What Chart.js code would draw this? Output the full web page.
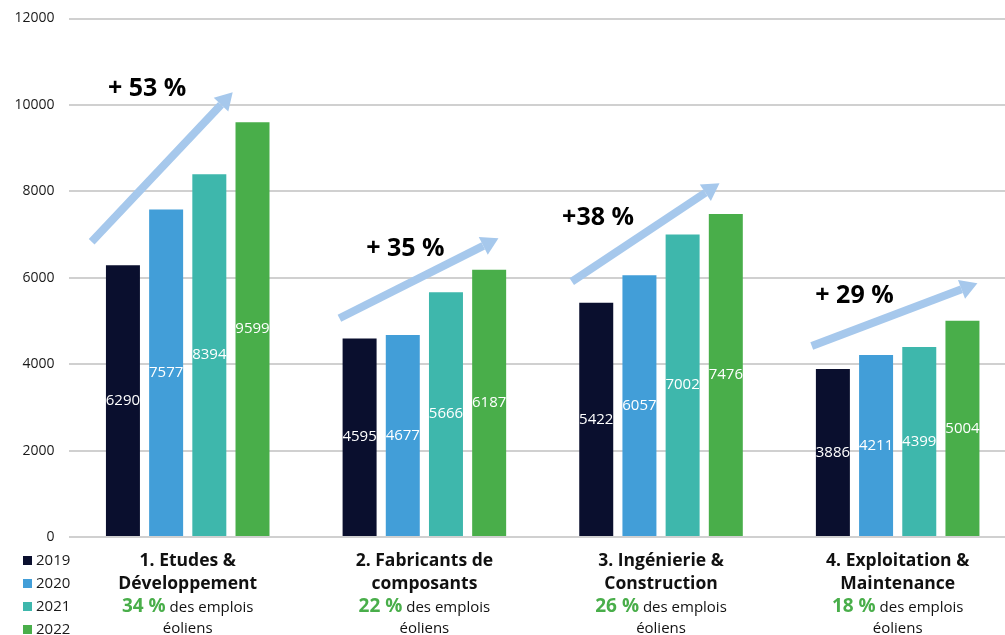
<!DOCTYPE html>
<html lang="fr">
<head>
<meta charset="utf-8">
<title>Emplois éoliens par segment</title>
<script src="https://cdn.jsdelivr.net/npm/chart.js@4.4.1/dist/chart.umd.min.js"></script>
<style>
    html, body { margin: 0; padding: 0; background: #fff; overflow: hidden; }
    #wrap { width: 1016px; height: 635px; }
</style>
</head>
<body>
<div id="wrap"><canvas id="jobsChart" width="1016" height="635"></canvas></div>
<script>
// segments of the wind industry
const categories = [
    ['1. Etudes &', 'Développement'],
    ['2. Fabricants de', 'composants'],
    ['3. Ingénierie &', 'Construction'],
    ['4. Exploitation &', 'Maintenance']
];
const shares = ['34 %', '22 %', '26 %', '18 %'];
const years = ['2019', '2020', '2021', '2022'];

const jobs2019 = [6290, 4595, 5422, 3886];
const jobs2020 = [7577, 4677, 6057, 4211];
const jobs2021 = [8394, 5666, 7002, 4399];
const jobs2022 = [9599, 6187, 7476, 5004];

const growth = ['+ 53 %', '+ 35 %', '+38 %', '+ 29 %'];

const yTicks = [0, 2000, 4000, 6000, 8000, 10000, 12000];

const colors = ['#0a0f2e', '#429ed8', '#3eb7ac', '#49ae4a'];
const FONT = '"Open Sans", "Noto Sans", sans-serif';

// growth arrows, in axis units: [x from, y from, x to, y to]
const arrows = [
    [-0.406, 6834, 0.19, 10292],
    [0.641, 5062, 1.313, 6913],
    [1.623, 5909, 2.247, 8186],
    [2.637, 4420, 3.337, 5872]
];
// anchor of each growth label (left edge, middle)
const growthAt = [
    [-0.337, 10368],
    [0.754, 6672],
    [1.582, 7383],
    [2.652, 5578]
];

const series = [jobs2019, jobs2020, jobs2021, jobs2022];

const barLabels = {
    id: 'barLabels',
    afterDatasetsDraw(chart) {
        const ctx = chart.ctx;
        ctx.save();
        ctx.font = '15px ' + FONT;
        ctx.fillStyle = '#ffffff';
        ctx.textAlign = 'center';
        ctx.textBaseline = 'middle';
        chart.data.datasets.forEach((ds, i) => {
            chart.getDatasetMeta(i).data.forEach((bar, j) => {
                ctx.fillText(String(ds.data[j]), bar.x, (bar.y + bar.base) / 2);
            });
        });
        ctx.restore();
    }
};

const growthArrows = {
    id: 'growthArrows',
    afterDatasetsDraw(chart) {
        const ctx = chart.ctx;
        const xs = chart.scales.x, ys = chart.scales.y;
        const step = xs.getPixelForValue(1) - xs.getPixelForValue(0);
        const px = v => xs.getPixelForValue(0) + v * step;
        ctx.save();
        ctx.fillStyle = '#a6c8ec';
        ctx.strokeStyle = '#a6c8ec';
        arrows.forEach(a => {
            const x1 = px(a[0]), y1 = ys.getPixelForValue(a[1]);
            const x2 = px(a[2]), y2 = ys.getPixelForValue(a[3]);
            const ang = Math.atan2(y2 - y1, x2 - x1);
            const headLen = 17, headHalf = 10;
            const bx = x2 - headLen * Math.cos(ang), by = y2 - headLen * Math.sin(ang);
            ctx.lineWidth = 8;
            ctx.lineCap = 'butt';
            ctx.beginPath();
            ctx.moveTo(x1, y1);
            ctx.lineTo(bx, by);
            ctx.stroke();
            ctx.beginPath();
            ctx.moveTo(x2, y2);
            ctx.lineTo(bx + headHalf * Math.sin(ang), by - headHalf * Math.cos(ang));
            ctx.lineTo(bx - headHalf * Math.sin(ang), by + headHalf * Math.cos(ang));
            ctx.closePath();
            ctx.fill();
        });
        ctx.font = 'bold 25px ' + FONT;
        ctx.fillStyle = '#000000';
        ctx.textAlign = 'left';
        ctx.textBaseline = 'middle';
        growth.forEach((t, i) => {
            ctx.fillText(t, px(growthAt[i][0]), ys.getPixelForValue(growthAt[i][1]));
        });
        ctx.restore();
    }
};

const bottomText = {
    id: 'bottomText',
    afterDraw(chart) {
        const ctx = chart.ctx;
        const xs = chart.scales.x;
        ctx.save();

        // legend, stacked in the lower left corner
        ctx.font = '15px ' + FONT;
        ctx.textAlign = 'left';
        ctx.textBaseline = 'middle';
        chart.data.datasets.forEach((ds, i) => {
            const cy = 560 + i * 23;
            ctx.fillStyle = ds.backgroundColor;
            ctx.fillRect(23, cy - 4, 9, 9);
            ctx.fillStyle = '#1a1a1a';
            ctx.fillText(ds.label, 36, cy + 1);
        });

        // category names with their share of jobs
        ctx.textBaseline = 'alphabetic';
        categories.forEach((lines, i) => {
            const cx = xs.getPixelForValue(i);
            ctx.textAlign = 'center';
            ctx.fillStyle = '#111111';
            ctx.font = 'bold 17.5px ' + FONT;
            ctx.fillText(lines[0], cx, 566);
            ctx.fillText(lines[1], cx, 589);

            const pct = shares[i], rest = ' des emplois';
            ctx.font = 'bold 19px ' + FONT;
            const w1 = ctx.measureText(pct).width;
            ctx.font = '15px ' + FONT;
            const w2 = ctx.measureText(rest).width;
            const x = cx - (w1 + w2) / 2;
            ctx.textAlign = 'left';
            ctx.font = 'bold 19px ' + FONT;
            ctx.fillStyle = '#49ae4a';
            ctx.fillText(pct, x, 612);
            ctx.font = '15px ' + FONT;
            ctx.fillStyle = '#111111';
            ctx.fillText(rest, x + w1, 612);
            ctx.textAlign = 'center';
            ctx.fillText('éoliens', cx, 633);
        });
        ctx.restore();
    }
};

new Chart(document.getElementById('jobsChart').getContext('2d'), {
    type: 'bar',
    data: {
        labels: categories,
        datasets: years.map((y, i) => ({
            label: y,
            data: series[i],
            backgroundColor: colors[i],
            borderWidth: 0,
            categoryPercentage: 0.73,
            barPercentage: 0.787
        }))
    },
    options: {
        responsive: false,
        animation: false,
        devicePixelRatio: 1,
        layout: { padding: { top: 18.5, bottom: 98, left: 0, right: 0 } },
        plugins: {
            legend: { display: false },
            tooltip: { enabled: false }
        },
        scales: {
            x: { display: false },
            y: {
                min: 0,
                max: 12000,
                afterBuildTicks: scale => { scale.ticks = yTicks.map(v => ({ value: v })); },
                afterFit: scale => {
                    // fixed axis width; the tick padding must not push the plot top down
                    scale.width = 69.4;
                    scale.paddingTop = 0;
                    scale.paddingBottom = 0;
                },
                border: { display: false },
                grid: { color: '#d0d0d0', lineWidth: 2, drawTicks: false },
                ticks: {
                    padding: 15,
                    color: '#1a1a1a',
                    font: { family: FONT, size: 14 },
                    callback: v => String(v)
                }
            }
        }
    },
    plugins: [barLabels, growthArrows, bottomText]
});
</script>
</body>
</html>
